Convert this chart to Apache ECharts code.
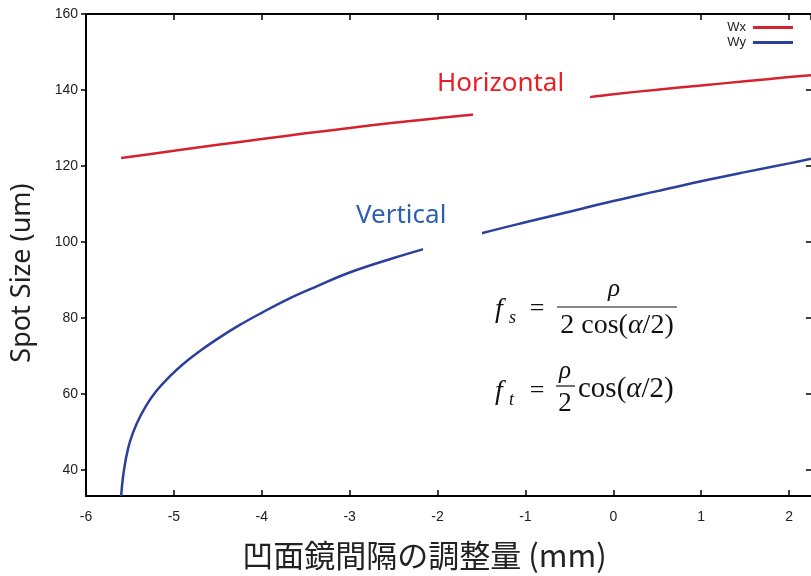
<!DOCTYPE html>
<html>
<head>
<meta charset="utf-8">
<script src="https://cdn.jsdelivr.net/npm/echarts@6/dist/echarts.min.js"></script>
<style>
  html, body { margin: 0; padding: 0; background: #fff; }
  #chart { width: 811px; height: 576px; }
</style>
</head>
<body>
<div id="chart"></div>
<script>
// Wx (horizontal) spot size vs mirror spacing
const wxX = [-5.6, -5, -4.5, -4, -3.5, -3, -2.5, -2, -1.5, -1, -0.5, -0.25, 0, 0.5, 1, 1.5, 2, 2.25];
const wxY = [122.1, 124.0, 125.6, 127.1, 128.6, 130.0, 131.4, 132.6, 133.8, 135.6, 137.3, 138.2, 138.9, 140.1, 141.2, 142.3, 143.4, 143.9];

// Wy (vertical)
const wyX = [-5.6, -5.58, -5.55, -5.5, -5.42, -5.32, -5.2, -5.05, -4.9, -4.7, -4.5, -4.25, -4.0, -3.7, -3.4, -3, -2.5, -2, -1.5, -1, -0.5, 0, 0.5, 1, 1.5, 2, 2.25];
const wyY = [33.2, 38, 42.5, 47.5, 52.4, 56.8, 60.8, 64.6, 67.8, 71.4, 74.6, 78.2, 81.4, 85.0, 88.1, 92, 95.8, 99.2, 102.3, 105.2, 108, 110.8, 113.4, 116, 118.4, 120.7, 121.9];

const seriesNames = ['Wx', 'Wy'];
const yTicks = [40, 60, 80, 100, 120, 140, 160];

const chart = echarts.init(document.getElementById('chart'));

const tickFont = { fontFamily: 'Liberation Sans', fontSize: 14, color: '#222' };
const serif = '"Liberation Serif", "DejaVu Serif", serif';

const option = {
  backgroundColor: '#fff',
  animation: false,
  grid: { left: 86, right: 0, top: 14, bottom: 80 },
  legend: {
    orient: 'vertical',
    right: 13,
    top: 16,
    align: 'right',
    itemWidth: 40,
    itemHeight: 3,
    itemGap: 2,
    icon: 'rect',
    textStyle: { fontFamily: 'Liberation Sans', fontSize: 13, color: '#222', padding: [0, 2, 0, 0] },
    data: seriesNames
  },
  xAxis: [
    {
      type: 'value',
      min: -6,
      max: 2.25,
      interval: 1,
      name: '凹面鏡間隔の調整量 (mm)',
      nameLocation: 'middle',
      nameGap: 44,
      nameTextStyle: { fontFamily: 'Noto Sans CJK JP', fontSize: 31, color: '#222', padding: [0, 48, 0, 0] },
      axisLine: { onZero: false, lineStyle: { color: '#000', width: 2 } },
      axisTick: { inside: true, length: 6, lineStyle: { color: '#000', width: 1.5 } },
      axisLabel: { ...tickFont, margin: 14, showMaxLabel: false,
        formatter: v => (Number.isInteger(v) ? String(v) : '') },
      splitLine: { show: false }
    },
    {
      type: 'value',
      position: 'top',
      min: -6,
      max: 2.25,
      interval: 1,
      axisLine: { onZero: false, lineStyle: { color: '#000', width: 2 } },
      axisTick: { inside: true, length: 6, lineStyle: { color: '#000', width: 1.5 } },
      axisLabel: { show: false },
      splitLine: { show: false }
    }
  ],
  yAxis: [
    {
      type: 'value',
      min: 33.2,
      max: 160,
      name: 'Spot Size (um)',
      nameLocation: 'middle',
      nameGap: 50,
      nameTextStyle: { fontFamily: 'Noto Sans', fontSize: 27, color: '#222', padding: [0, 36, 0, 0] },
      axisLine: { onZero: false, lineStyle: { color: '#000', width: 2 } },
      axisTick: { inside: false, length: 5, customValues: yTicks, lineStyle: { color: '#000', width: 1.5 } },
      axisLabel: { ...tickFont, margin: 8, customValues: yTicks },
      splitLine: { show: false }
    },
    {
      type: 'value',
      position: 'right',
      min: 33.2,
      max: 160,
      axisLine: { show: false, onZero: false },
      axisTick: { inside: true, length: 5, customValues: yTicks, lineStyle: { color: '#000', width: 1.5 } },
      axisLabel: { show: false },
      splitLine: { show: false }
    }
  ],
  series: [
    {
      name: 'Wx',
      type: 'line',
      data: wxX.map((x, i) => [x, wxY[i]]),
      showSymbol: false,
      smooth: 0.3,
      itemStyle: { color: '#d4232f' },
      lineStyle: { color: '#d4232f', width: 2.5 }
    },
    {
      name: 'Wy',
      type: 'line',
      data: wyX.map((x, i) => [x, wyY[i]]),
      showSymbol: false,
      smooth: 0.4,
      itemStyle: { color: '#2b3f9c' },
      lineStyle: { color: '#2b3f9c', width: 2.5 }
    }
  ],
  graphic: [
    // white label boxes pasted over the curves
    { type: 'rect', z: 100, shape: { x: 473, y: 62, width: 117, height: 58 }, style: { fill: '#fff' } },
    { type: 'rect', z: 100, shape: { x: 423, y: 196, width: 59, height: 56 }, style: { fill: '#fff' } },
    { type: 'text', z: 101, x: 437, y: 84,
      style: { text: 'Horizontal', fill: '#ec1c24', font: '26px "Noto Sans"', textVerticalAlign: 'middle' } },
    { type: 'text', z: 101, x: 356, y: 216,
      style: { text: 'Vertical', fill: '#2f5fb3', font: '26px "Noto Sans"', textVerticalAlign: 'middle' } },

    // f_s = rho / (2 cos(alpha/2))
    { type: 'text', z: 101, x: 495, y: 310, style: { text: 'f', font: 'italic 28px ' + serif, fill: '#111', textVerticalAlign: 'middle' } },
    { type: 'text', z: 101, x: 509, y: 318, style: { text: 's', font: 'italic 18px ' + serif, fill: '#111', textVerticalAlign: 'middle' } },
    { type: 'text', z: 101, x: 537, y: 309, style: { text: '=', font: '26px ' + serif, fill: '#111', textAlign: 'center', textVerticalAlign: 'middle' } },
    { type: 'text', z: 101, x: 614, y: 289, style: { text: 'ρ', font: 'italic 25px ' + serif, fill: '#111', textAlign: 'center', textVerticalAlign: 'middle' } },
    { type: 'line', z: 101, shape: { x1: 557, y1: 307, x2: 677, y2: 307 }, style: { stroke: '#111', lineWidth: 1.2 } },
    { type: 'text', z: 101, x: 617, y: 326,
      style: {
        text: '{n|2 cos(}{i|α}{n|/2)}', textAlign: 'center', textVerticalAlign: 'middle',
        rich: { n: { font: '28px ' + serif, fill: '#111' }, i: { font: 'italic 28px ' + serif, fill: '#111' } }
      } },

    // f_t = rho/2 cos(alpha/2)
    { type: 'text', z: 101, x: 495, y: 392, style: { text: 'f', font: 'italic 28px ' + serif, fill: '#111', textVerticalAlign: 'middle' } },
    { type: 'text', z: 101, x: 509, y: 400, style: { text: 't', font: 'italic 18px ' + serif, fill: '#111', textVerticalAlign: 'middle' } },
    { type: 'text', z: 101, x: 537, y: 391, style: { text: '=', font: '26px ' + serif, fill: '#111', textAlign: 'center', textVerticalAlign: 'middle' } },
    { type: 'text', z: 101, x: 565, y: 371, style: { text: 'ρ', font: 'italic 25px ' + serif, fill: '#111', textAlign: 'center', textVerticalAlign: 'middle' } },
    { type: 'line', z: 101, shape: { x1: 556, y1: 386, x2: 575, y2: 386 }, style: { stroke: '#111', lineWidth: 1.2 } },
    { type: 'text', z: 101, x: 565, y: 404, style: { text: '2', font: '27px ' + serif, fill: '#111', textAlign: 'center', textVerticalAlign: 'middle' } },
    { type: 'text', z: 101, x: 578, y: 389,
      style: {
        text: '{n|cos(}{i|α}{n|/2)}', textVerticalAlign: 'middle',
        rich: { n: { font: '29px ' + serif, fill: '#111' }, i: { font: 'italic 29px ' + serif, fill: '#111' } }
      } }
  ]
};

chart.setOption(option);
</script>
</body>
</html>
